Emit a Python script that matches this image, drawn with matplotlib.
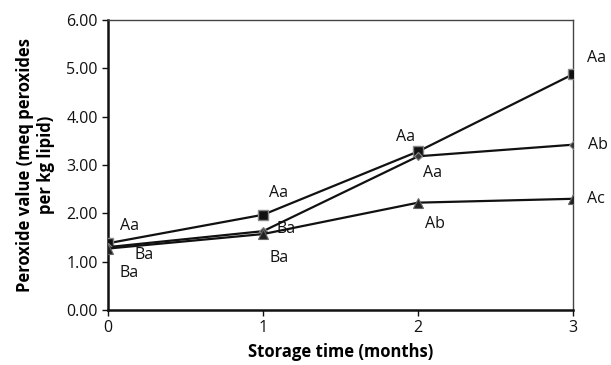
import matplotlib
matplotlib.use('Agg')
import matplotlib.pyplot as plt

plt.rcParams['font.family'] = ['Open Sans', 'DejaVu Sans']

months = [0, 1, 2, 3]
pv_square = [1.38, 1.97, 3.28, 4.88]
pv_diamond = [1.30, 1.63, 3.18, 3.42]
pv_triangle = [1.27, 1.57, 2.22, 2.30]

# significance letters: (text, x, y)
letters = [
    ('Aa', 0.14, 1.74), ('Ba', 0.23, 1.14), ('Ba', 0.135, 0.76),
    ('Aa', 1.10, 2.42), ('Ba', 1.15, 1.68), ('Ba', 1.10, 1.08),
    ('Aa', 1.92, 3.58), ('Aa', 2.09, 2.83), ('Ab', 2.11, 1.78),
    ('Aa', 3.15, 5.21), ('Ab', 3.16, 3.42), ('Ac', 3.15, 2.30),
]

fig = plt.figure(figsize=(6.11, 3.65), dpi=100)
ax = fig.add_axes([0.177, 0.151, 0.761, 0.794])

ax.plot(months, pv_square, color='#111111', lw=1.6, marker='s', ms=6.5,
        mfc='#111111', mec='#888888', mew=1, zorder=3)
ax.plot(months, pv_diamond, color='#111111', lw=1.6, marker='D', ms=4,
        mfc='#333333', mec='#888888', mew=0.8, zorder=3)
ax.plot(months, pv_triangle, color='#111111', lw=1.6, marker='^', ms=7,
        mfc='#222222', mec='#666666', mew=0.8, zorder=3)

for t, x, y in letters:
    ax.text(x, y, t, fontsize=11.5, ha='center', va='center', color='#111111')

ax.set_xlim(0, 3)
ax.set_ylim(0, 6)
ax.set_xticks(months)
ax.set_yticks([0, 1, 2, 3, 4, 5, 6])
ax.set_yticklabels(['%.2f' % v for v in range(7)])
ax.tick_params(labelsize=11.5, length=4, width=1, colors='#111111')

for s in ['left', 'bottom']:
    ax.spines[s].set_linewidth(1.8)
    ax.spines[s].set_color('#111111')
for s in ['top', 'right']:
    ax.spines[s].set_linewidth(1.0)
    ax.spines[s].set_color('#444444')

ax.set_xlabel('Storage time (months)', fontsize=12, fontweight='bold', labelpad=5)
ax.set_ylabel('Peroxide value (meq peroxides\nper kg lipid)', fontsize=12,
              fontweight='bold', labelpad=8)

fig.savefig('out.png', dpi=100)
